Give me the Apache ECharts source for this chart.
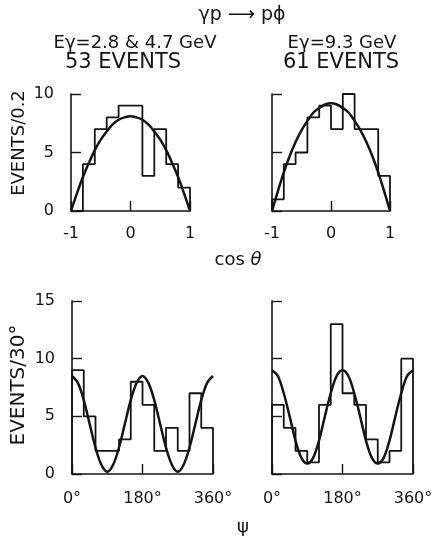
<!DOCTYPE html>
<html>
<head>
<meta charset="utf-8">
<script src="https://cdn.jsdelivr.net/npm/echarts@6/dist/echarts.min.js"></script>
<style>
html,body{margin:0;padding:0;background:#fff;}
#chart{width:437px;height:536px;}
</style>
</head>
<body>
<div id="chart"></div>
<script>
// ---- data ----
const cosEdges = [-1, -0.8, -0.6, -0.4, -0.2, 0, 0.2, 0.4, 0.6, 0.8, 1];
const countsLowE = [0, 4, 7, 8, 9, 9, 3, 7, 4, 2];     // Eγ = 2.8 & 4.7 GeV, 53 events
const countsHighE = [1, 4, 5, 8, 9, 7, 10, 7, 7, 3];   // Eγ = 9.3 GeV, 61 events

const psiEdges = [0, 30, 60, 90, 120, 150, 180, 210, 240, 270, 300, 330, 360];
const psiLowE = [9, 5, 2, 2, 3, 8, 6, 2, 4, 2, 7, 4];
const psiHighE = [6, 4, 2, 1, 6, 13, 7, 6, 3, 1, 2, 10];

const cosSample = [-1, -0.9, -0.8, -0.7, -0.6, -0.5, -0.4, -0.3, -0.2, -0.1, 0, 0.1, 0.2, 0.3, 0.4, 0.5, 0.6, 0.7, 0.8, 0.9, 1];
const fitCosLowE = [0, 1.5, 2.9, 4.1, 5.2, 6.1, 6.8, 7.4, 7.8, 8.0, 8.1, 8.0, 7.8, 7.4, 6.8, 6.1, 5.2, 4.1, 2.9, 1.5, 0];
const fitCosHighE = [0, 1.7, 3.3, 4.7, 5.9, 6.9, 7.7, 8.4, 8.8, 9.1, 9.2, 9.1, 8.8, 8.4, 7.7, 6.9, 5.9, 4.7, 3.3, 1.7, 0];

const psiSample = [0, 15, 30, 45, 60, 75, 90, 105, 120, 135, 150, 165, 180, 195, 210, 225, 240, 255, 270, 285, 300, 315, 330, 345, 360];
const fitPsiLowE = [8.5, 7.9, 6.4, 4.35, 2.3, 0.8, 0.2, 0.8, 2.3, 4.35, 6.4, 7.9, 8.5, 7.9, 6.4, 4.35, 2.3, 0.8, 0.2, 0.8, 2.3, 4.35, 6.4, 7.9, 8.5];
const fitPsiHighE = [9.0, 8.5, 7.0, 5.0, 2.9, 1.4, 0.9, 1.4, 2.9, 5.0, 7.0, 8.5, 9.0, 8.5, 7.0, 5.0, 2.9, 1.4, 0.9, 1.4, 2.9, 5.0, 7.0, 8.5, 9.0];

const cosTicks = [-1, 0, 1];
const psiTicks = [0, 180, 360];

// ---- helpers ----
const INK = '#141414';
const FONT = '"DejaVu Sans", sans-serif';

function histPoints(edges, counts) {
  const pts = [[edges[0], 0]];
  for (let i = 0; i < counts.length; i++) pts.push([edges[i], counts[i]]);
  pts.push([edges[edges.length - 1], counts[counts.length - 1]]);
  pts.push([edges[edges.length - 1], 0]);
  return pts;
}
function pairs(xs, ys) { return xs.map((x, i) => [x, ys[i]]); }

function xAxisCfg(gi, min, max, interval, fmt, margin) {
  return {
    type: 'value', gridIndex: gi, min: min, max: max, interval: interval,
    axisLine: { onZero: false, lineStyle: { color: INK, width: 1.6 } },
    axisTick: { inside: true, length: 10, lineStyle: { color: INK, width: 1.4 } },
    axisLabel: { margin: margin, color: INK, fontSize: 16, fontFamily: FONT, formatter: fmt },
    splitLine: { show: false }
  };
}
function yAxisCfg(gi, max, showLabel) {
  return {
    type: 'value', gridIndex: gi, min: 0, max: max, interval: 5,
    axisLine: { onZero: false, lineStyle: { color: INK, width: 1.6 } },
    axisTick: { inside: true, length: 10, lineStyle: { color: INK, width: 1.4 } },
    axisLabel: { show: showLabel, margin: 17, color: INK, fontSize: 16, fontFamily: FONT },
    splitLine: { show: false }
  };
}
function histSeries(gi, pts) {
  return { type: 'line', xAxisIndex: gi, yAxisIndex: gi, step: 'end', data: pts,
    showSymbol: false, symbol: 'none', lineStyle: { color: INK, width: 1.8 }, silent: true };
}
function fitSeries(gi, pts) {
  return { type: 'line', xAxisIndex: gi, yAxisIndex: gi, smooth: 0.35, data: pts,
    showSymbol: false, symbol: 'none', lineStyle: { color: INK, width: 2.5 }, silent: true };
}

const cosFmt = v => String(v);
const psiFmt = v => v + '°';

const option = {
  backgroundColor: '#ffffff',
  animation: false,
  grid: [
    { left: 71, top: 94, width: 119, height: 117 },
    { left: 272, top: 94, width: 118, height: 117 },
    { left: 72, top: 301, width: 141, height: 173 },
    { left: 272, top: 301, width: 141, height: 173 }
  ],
  xAxis: [
    xAxisCfg(0, cosTicks[0], cosTicks[2], 1, cosFmt, 15),
    xAxisCfg(1, cosTicks[0], cosTicks[2], 1, cosFmt, 15),
    xAxisCfg(2, psiTicks[0], psiTicks[2], 180, psiFmt, 17),
    xAxisCfg(3, psiTicks[0], psiTicks[2], 180, psiFmt, 17)
  ],
  yAxis: [
    yAxisCfg(0, 10, true),
    yAxisCfg(1, 10, false),
    yAxisCfg(2, 15, true),
    yAxisCfg(3, 15, false)
  ],
  series: [
    histSeries(0, histPoints(cosEdges, countsLowE)),
    fitSeries(0, pairs(cosSample, fitCosLowE)),
    histSeries(1, histPoints(cosEdges, countsHighE)),
    fitSeries(1, pairs(cosSample, fitCosHighE)),
    histSeries(2, histPoints(psiEdges, psiLowE)),
    fitSeries(2, pairs(psiSample, fitPsiLowE)),
    histSeries(3, histPoints(psiEdges, psiHighE)),
    fitSeries(3, pairs(psiSample, fitPsiHighE))
  ],
  graphic: [
    { type: 'text', x: 242, y: 15, style: { text: 'γp ⟶ pϕ', fill: INK, font: '19px ' + FONT, align: 'center', verticalAlign: 'middle' } },
    { type: 'text', x: 135, y: 43, style: { text: 'Eγ=2.8 & 4.7 GeV', fill: INK, font: '18px ' + FONT, align: 'center', verticalAlign: 'middle' } },
    { type: 'text', x: 123, y: 63, style: { text: '53 EVENTS', fill: INK, font: '21px ' + FONT, align: 'center', verticalAlign: 'middle' } },
    { type: 'text', x: 342, y: 43, style: { text: 'Eγ=9.3 GeV', fill: INK, font: '18px ' + FONT, align: 'center', verticalAlign: 'middle' } },
    { type: 'text', x: 341, y: 63, style: { text: '61 EVENTS', fill: INK, font: '21px ' + FONT, align: 'center', verticalAlign: 'middle' } },
    { type: 'text', x: 19, y: 143, rotation: Math.PI / 2, style: { text: 'EVENTS/0.2', fill: INK, font: '18px ' + FONT, align: 'center', verticalAlign: 'middle' } },
    { type: 'text', x: 19, y: 385, rotation: Math.PI / 2, style: { text: 'EVENTS/30°', fill: INK, font: '20px ' + FONT, align: 'center', verticalAlign: 'middle' } },
    { type: 'text', x: 238, y: 260, style: { text: 'cos {i|θ}', fill: INK, font: '18px ' + FONT, align: 'center', verticalAlign: 'middle',
        rich: { i: { fontStyle: 'italic', fontSize: 18, fontFamily: FONT, fill: INK } } } },
    { type: 'text', x: 243, y: 527, style: { text: 'ψ', fill: INK, font: '18px ' + FONT, align: 'center', verticalAlign: 'middle' } }
  ]
};

const chart = echarts.init(document.getElementById('chart'), null, { renderer: 'canvas' });
chart.setOption(option);
</script>
</body>
</html>
